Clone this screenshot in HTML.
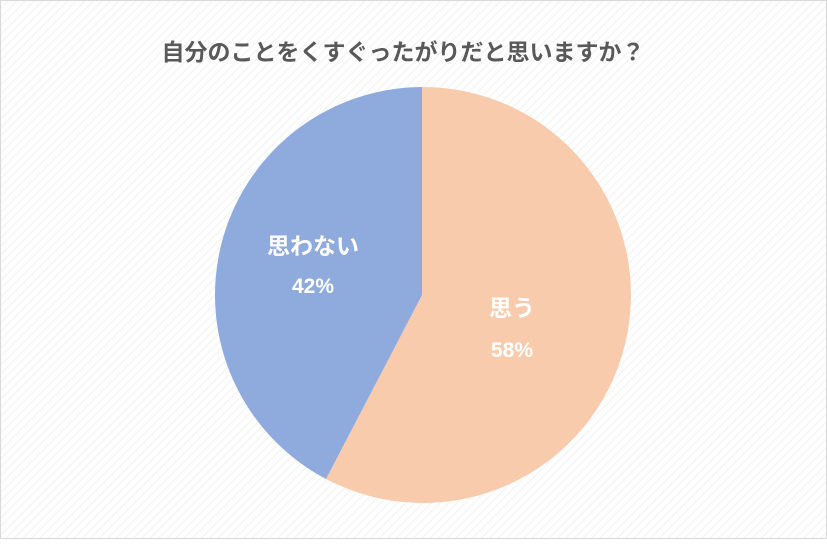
<!DOCTYPE html>
<html><head><meta charset="utf-8"><style>
html,body{margin:0;padding:0}
body{width:827px;height:539px;overflow:hidden;position:relative;font-family:"Liberation Sans","Noto Sans CJK JP",sans-serif}
</style></head><body>
<svg width="827" height="539" viewBox="0 0 827 539" xmlns="http://www.w3.org/2000/svg">
<defs>
<pattern id="h" width="6" height="6" patternUnits="userSpaceOnUse" patternTransform="rotate(45)">
<rect width="6" height="6" fill="#ffffff"/>
<rect width="1.5" height="6" fill="#f5f5f5"/>
</pattern>
</defs>
<rect x="0.5" y="0.5" width="826" height="538" fill="url(#h)" stroke="#d9d9d9"/>
<text x="403" y="60" text-anchor="middle" font-size="23" font-weight="bold" fill="#595959" font-family="Liberation Sans, Noto Sans CJK JP, sans-serif">自分のことをくすぐったがりだと思いますか？</text>
<path d="M422,295 L422,87 A208,208 0 1 1 326,479 Z" fill="#f8cbad"/>
<path d="M422,295 L326,479 A208,208 0 0 1 422,87 Z" fill="#8faadc"/>
<g fill="#ffffff" font-weight="bold" text-anchor="middle" font-family="Liberation Sans, Noto Sans CJK JP, sans-serif">
<text x="313" y="254" font-size="23">思わない</text>
<text x="313" y="293" font-size="21">42%</text>
<text x="512" y="316" font-size="23">思う</text>
<text x="512" y="357" font-size="21">58%</text>
</g>
</svg>
</body></html>
